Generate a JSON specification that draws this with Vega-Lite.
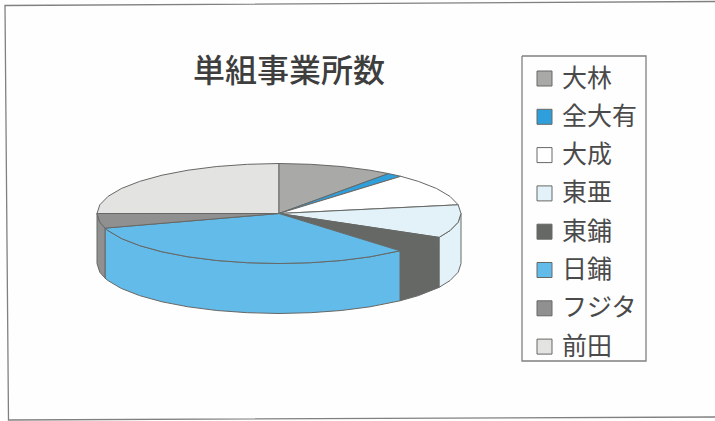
{
  "$schema": "https://vega.github.io/schema/vega-lite/v6.json",
  "width": 715,
  "height": 421,
  "padding": 0,
  "autosize": {"type": "none"},
  "background": "#fefefe",
  "config": {"view": {"stroke": null}},
  "title": {"text": "単組事業所数", "font": "Noto Sans CJK JP", "fontSize": 32, "fontWeight": 500, "color": "#3e3e3e", "anchor": "start", "frame": "group", "dx": 193, "dy": 90, "offset": 0},
  "datasets": {
    "frame": [
      {"edge": "border", "seq": 0, "x": 436, "y": 212},
      {"edge": "border", "seq": 1, "x": -274, "y": 208},
      {"edge": "border", "seq": 2, "x": -270.5, "y": -206.5},
      {"edge": "border", "seq": 3, "x": 436, "y": -203.5},
      {"edge": "legend box", "seq": 0, "x": 243, "y": 157.5},
      {"edge": "legend box", "seq": 1, "x": 367, "y": 157.5},
      {"edge": "legend box", "seq": 2, "x": 367, "y": -147.5},
      {"edge": "legend box", "seq": 3, "x": 243, "y": -147.5},
      {"edge": "legend box", "seq": 4, "x": 243, "y": 157.5}
    ],
    "pie": [
      {"slice": "前田", "part": "top", "seq": 0, "x": -182, "y": 0},
      {"slice": "前田", "part": "top", "seq": 1, "x": -179.2, "y": 8.7},
      {"slice": "前田", "part": "top", "seq": 2, "x": -171, "y": 17.1},
      {"slice": "前田", "part": "top", "seq": 3, "x": -157.6, "y": 25},
      {"slice": "前田", "part": "top", "seq": 4, "x": -139.4, "y": 32.1},
      {"slice": "前田", "part": "top", "seq": 5, "x": -117, "y": 38.3},
      {"slice": "前田", "part": "top", "seq": 6, "x": -91, "y": 43.3},
      {"slice": "前田", "part": "top", "seq": 7, "x": -62.2, "y": 47},
      {"slice": "前田", "part": "top", "seq": 8, "x": -31.6, "y": 49.2},
      {"slice": "前田", "part": "top", "seq": 9, "x": 0, "y": 50},
      {"slice": "前田", "part": "top", "seq": 10, "x": 0, "y": 0},
      {"slice": "前田", "part": "top", "seq": 11, "x": -182, "y": 0},

      {"slice": "大林", "part": "top", "seq": 0, "x": 0, "y": 50},
      {"slice": "大林", "part": "top", "seq": 1, "x": 31.6, "y": 49.2},
      {"slice": "大林", "part": "top", "seq": 2, "x": 62.2, "y": 47},
      {"slice": "大林", "part": "top", "seq": 3, "x": 91, "y": 43.3},
      {"slice": "大林", "part": "top", "seq": 4, "x": 109.5, "y": 39.9},
      {"slice": "大林", "part": "top", "seq": 5, "x": 0, "y": 0},
      {"slice": "大林", "part": "top", "seq": 6, "x": 0, "y": 50},

      {"slice": "全大有", "part": "top", "seq": 0, "x": 109.5, "y": 39.9},
      {"slice": "全大有", "part": "top", "seq": 1, "x": 121.8, "y": 37.2},
      {"slice": "全大有", "part": "top", "seq": 2, "x": 0, "y": 0},
      {"slice": "全大有", "part": "top", "seq": 3, "x": 109.5, "y": 39.9},

      {"slice": "大成", "part": "top", "seq": 0, "x": 121.8, "y": 37.2},
      {"slice": "大成", "part": "top", "seq": 1, "x": 139.4, "y": 32.1},
      {"slice": "大成", "part": "top", "seq": 2, "x": 157.6, "y": 25},
      {"slice": "大成", "part": "top", "seq": 3, "x": 171, "y": 17.1},
      {"slice": "大成", "part": "top", "seq": 4, "x": 179.2, "y": 8.7},
      {"slice": "大成", "part": "top", "seq": 5, "x": 0, "y": 0},
      {"slice": "大成", "part": "top", "seq": 6, "x": 121.8, "y": 37.2},

      {"slice": "東亜", "part": "wall", "seq": 0, "x": 160, "y": -23.9},
      {"slice": "東亜", "part": "wall", "seq": 1, "x": 171, "y": -17.1},
      {"slice": "東亜", "part": "wall", "seq": 2, "x": 179.2, "y": -8.7},
      {"slice": "東亜", "part": "wall", "seq": 3, "x": 182, "y": 0},
      {"slice": "東亜", "part": "wall", "seq": 4, "x": 182, "y": -50},
      {"slice": "東亜", "part": "wall", "seq": 5, "x": 179.2, "y": -58.7},
      {"slice": "東亜", "part": "wall", "seq": 6, "x": 171, "y": -67.1},
      {"slice": "東亜", "part": "wall", "seq": 7, "x": 160, "y": -73.9},
      {"slice": "東亜", "part": "wall", "seq": 8, "x": 160, "y": -23.9},

      {"slice": "東亜", "part": "top", "seq": 0, "x": 179.2, "y": 8.7},
      {"slice": "東亜", "part": "top", "seq": 1, "x": 182, "y": 0},
      {"slice": "東亜", "part": "top", "seq": 2, "x": 179.2, "y": -8.7},
      {"slice": "東亜", "part": "top", "seq": 3, "x": 171, "y": -17.1},
      {"slice": "東亜", "part": "top", "seq": 4, "x": 160, "y": -23.9},
      {"slice": "東亜", "part": "top", "seq": 5, "x": 0, "y": 0},
      {"slice": "東亜", "part": "top", "seq": 6, "x": 179.2, "y": 8.7},

      {"slice": "東鋪", "part": "wall", "seq": 0, "x": 121, "y": -37.3},
      {"slice": "東鋪", "part": "wall", "seq": 1, "x": 139.4, "y": -32.1},
      {"slice": "東鋪", "part": "wall", "seq": 2, "x": 160, "y": -23.9},
      {"slice": "東鋪", "part": "wall", "seq": 3, "x": 160, "y": -73.9},
      {"slice": "東鋪", "part": "wall", "seq": 4, "x": 139.4, "y": -82.1},
      {"slice": "東鋪", "part": "wall", "seq": 5, "x": 121, "y": -87.3},
      {"slice": "東鋪", "part": "wall", "seq": 6, "x": 121, "y": -37.3},

      {"slice": "東鋪", "part": "top", "seq": 0, "x": 160, "y": -23.9},
      {"slice": "東鋪", "part": "top", "seq": 1, "x": 139.4, "y": -32.1},
      {"slice": "東鋪", "part": "top", "seq": 2, "x": 121, "y": -37.3},
      {"slice": "東鋪", "part": "top", "seq": 3, "x": 0, "y": 0},
      {"slice": "東鋪", "part": "top", "seq": 4, "x": 160, "y": -23.9},

      {"slice": "日鋪", "part": "wall", "seq": 0, "x": 121, "y": -37.3},
      {"slice": "日鋪", "part": "wall", "seq": 1, "x": 91, "y": -43.3},
      {"slice": "日鋪", "part": "wall", "seq": 2, "x": 62.2, "y": -47},
      {"slice": "日鋪", "part": "wall", "seq": 3, "x": 31.6, "y": -49.2},
      {"slice": "日鋪", "part": "wall", "seq": 4, "x": 0, "y": -50},
      {"slice": "日鋪", "part": "wall", "seq": 5, "x": -31.6, "y": -49.2},
      {"slice": "日鋪", "part": "wall", "seq": 6, "x": -62.2, "y": -47},
      {"slice": "日鋪", "part": "wall", "seq": 7, "x": -91, "y": -43.3},
      {"slice": "日鋪", "part": "wall", "seq": 8, "x": -117, "y": -38.3},
      {"slice": "日鋪", "part": "wall", "seq": 9, "x": -139.4, "y": -32.1},
      {"slice": "日鋪", "part": "wall", "seq": 10, "x": -157.6, "y": -25},
      {"slice": "日鋪", "part": "wall", "seq": 11, "x": -171, "y": -17.1},
      {"slice": "日鋪", "part": "wall", "seq": 12, "x": -174, "y": -14.6},
      {"slice": "日鋪", "part": "wall", "seq": 13, "x": -174, "y": -64.6},
      {"slice": "日鋪", "part": "wall", "seq": 14, "x": -171, "y": -67.1},
      {"slice": "日鋪", "part": "wall", "seq": 15, "x": -157.6, "y": -75},
      {"slice": "日鋪", "part": "wall", "seq": 16, "x": -139.4, "y": -82.1},
      {"slice": "日鋪", "part": "wall", "seq": 17, "x": -117, "y": -88.3},
      {"slice": "日鋪", "part": "wall", "seq": 18, "x": -91, "y": -93.3},
      {"slice": "日鋪", "part": "wall", "seq": 19, "x": -62.2, "y": -97},
      {"slice": "日鋪", "part": "wall", "seq": 20, "x": -31.6, "y": -99.2},
      {"slice": "日鋪", "part": "wall", "seq": 21, "x": 0, "y": -100},
      {"slice": "日鋪", "part": "wall", "seq": 22, "x": 31.6, "y": -99.2},
      {"slice": "日鋪", "part": "wall", "seq": 23, "x": 62.2, "y": -97},
      {"slice": "日鋪", "part": "wall", "seq": 24, "x": 91, "y": -93.3},
      {"slice": "日鋪", "part": "wall", "seq": 25, "x": 121, "y": -87.3},
      {"slice": "日鋪", "part": "wall", "seq": 26, "x": 121, "y": -37.3},

      {"slice": "日鋪", "part": "top", "seq": 0, "x": 121, "y": -37.3},
      {"slice": "日鋪", "part": "top", "seq": 1, "x": 91, "y": -43.3},
      {"slice": "日鋪", "part": "top", "seq": 2, "x": 62.2, "y": -47},
      {"slice": "日鋪", "part": "top", "seq": 3, "x": 31.6, "y": -49.2},
      {"slice": "日鋪", "part": "top", "seq": 4, "x": 0, "y": -50},
      {"slice": "日鋪", "part": "top", "seq": 5, "x": -31.6, "y": -49.2},
      {"slice": "日鋪", "part": "top", "seq": 6, "x": -62.2, "y": -47},
      {"slice": "日鋪", "part": "top", "seq": 7, "x": -91, "y": -43.3},
      {"slice": "日鋪", "part": "top", "seq": 8, "x": -117, "y": -38.3},
      {"slice": "日鋪", "part": "top", "seq": 9, "x": -139.4, "y": -32.1},
      {"slice": "日鋪", "part": "top", "seq": 10, "x": -157.6, "y": -25},
      {"slice": "日鋪", "part": "top", "seq": 11, "x": -171, "y": -17.1},
      {"slice": "日鋪", "part": "top", "seq": 12, "x": -174, "y": -14.6},
      {"slice": "日鋪", "part": "top", "seq": 13, "x": 0, "y": 0},
      {"slice": "日鋪", "part": "top", "seq": 14, "x": 121, "y": -37.3},

      {"slice": "フジタ", "part": "wall", "seq": 0, "x": -182, "y": 0},
      {"slice": "フジタ", "part": "wall", "seq": 1, "x": -179.2, "y": -8.7},
      {"slice": "フジタ", "part": "wall", "seq": 2, "x": -174, "y": -14.6},
      {"slice": "フジタ", "part": "wall", "seq": 3, "x": -174, "y": -64.6},
      {"slice": "フジタ", "part": "wall", "seq": 4, "x": -179.2, "y": -58.7},
      {"slice": "フジタ", "part": "wall", "seq": 5, "x": -182, "y": -50},
      {"slice": "フジタ", "part": "wall", "seq": 6, "x": -182, "y": 0},

      {"slice": "フジタ", "part": "top", "seq": 0, "x": -174, "y": -14.6},
      {"slice": "フジタ", "part": "top", "seq": 1, "x": -179.2, "y": -8.7},
      {"slice": "フジタ", "part": "top", "seq": 2, "x": -182, "y": 0},
      {"slice": "フジタ", "part": "top", "seq": 3, "x": 0, "y": 0},
      {"slice": "フジタ", "part": "top", "seq": 4, "x": -174, "y": -14.6}
    ]
  },
  "data": {"name": "pie"},
  "encoding": {
    "x": {"field": "x", "type": "quantitative", "axis": null, "scale": {"domain": [-279, 436], "nice": false, "zero": false}},
    "y": {"field": "y", "type": "quantitative", "axis": null, "scale": {"domain": [-207.5, 213.5], "nice": false, "zero": false}},
    "order": {"field": "seq", "type": "quantitative"}
  },
  "layer": [
    {
      "data": {"name": "frame"},
      "mark": {"type": "line", "stroke": "#808080", "strokeWidth": 1.3},
      "encoding": {"detail": {"field": "edge"}}
    },
    {
      "mark": {"type": "line", "stroke": "#666866", "strokeWidth": 1, "strokeJoin": "round"},
      "encoding": {
        "detail": {"field": "part"},
        "fill": {
          "field": "slice",
          "type": "nominal",
          "scale": {
            "domain": ["大林", "全大有", "大成", "東亜", "東鋪", "日鋪", "フジタ", "前田"],
            "range": ["#a9aaa8", "#2f9fdc", "#ffffff", "#e2f2f8", "#666866", "#62bbe8", "#8f908f", "#e3e4e2"]
          },
          "legend": {
            "title": null,
            "orient": "none",
            "legendX": 522,
            "legendY": 56,
            "symbolType": "square",
            "symbolSize": 225,
            "symbolStrokeColor": "#666866",
            "symbolStrokeWidth": 1,
            "labelFont": "Noto Sans CJK JP",
            "labelFontSize": 25,
            "labelColor": "#4a4a4a",
            "labelLimit": 200,
            "labelOffset": 5,
            "rowPadding": 12.3,
            "padding": 10
          }
        }
      }
    }
  ]
}
